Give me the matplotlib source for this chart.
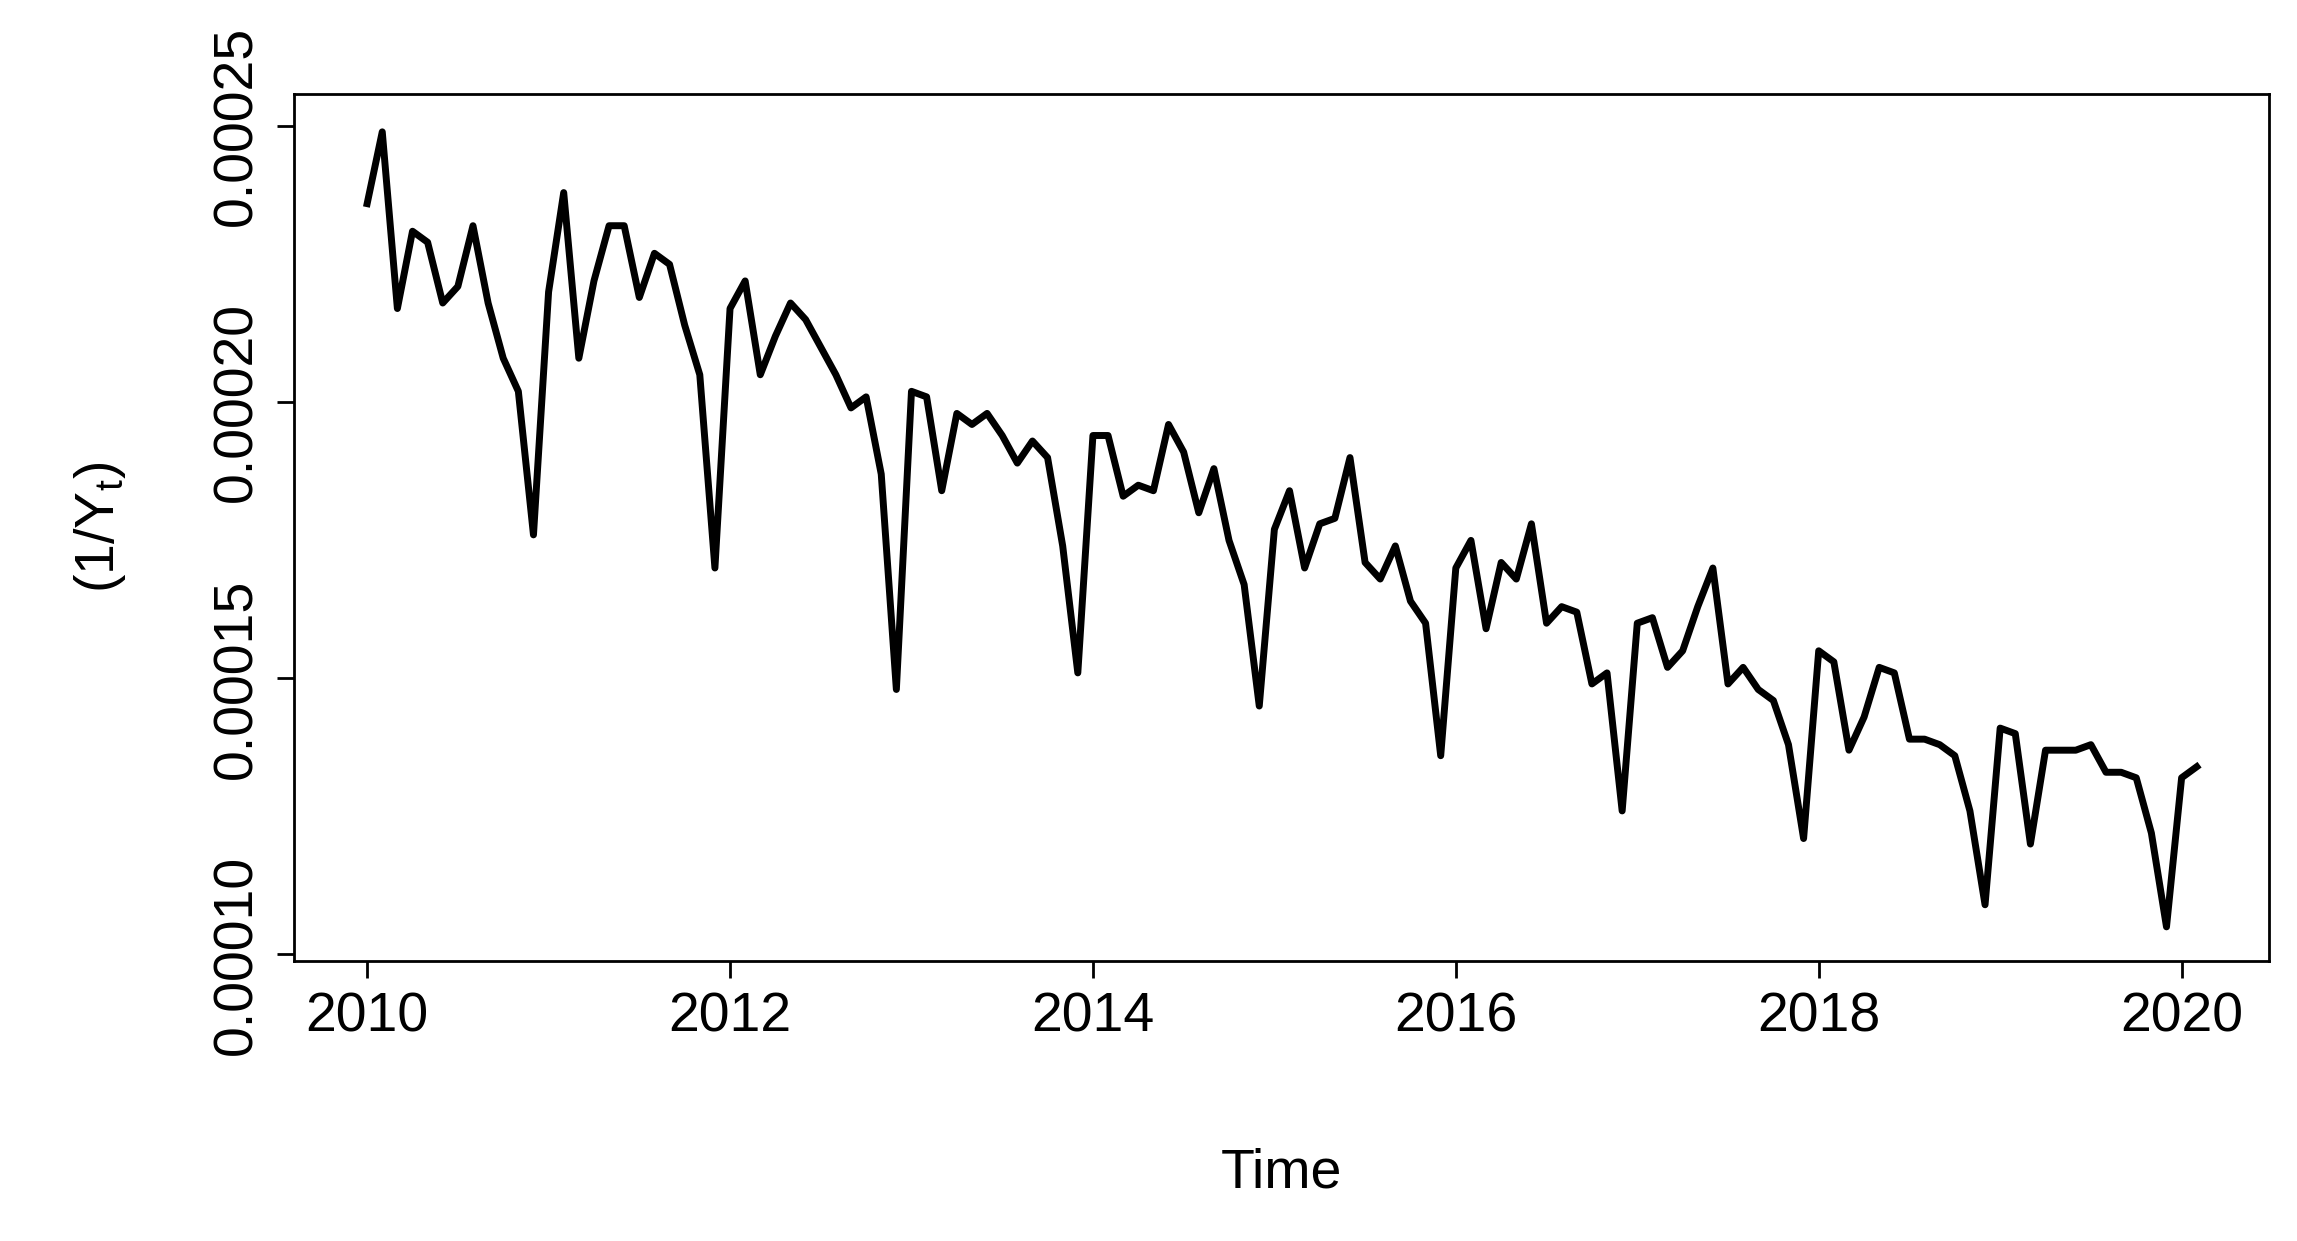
import matplotlib
matplotlib.use("Agg")
import matplotlib.pyplot as plt
import numpy as np

plt.rcParams['font.family'] = ['Liberation Sans', 'DejaVu Sans']
plt.rcParams['mathtext.fontset'] = 'custom'
plt.rcParams['mathtext.rm'] = 'Liberation Sans'

start_year = 2010
values = [
 0.000236,0.000249,0.000217,0.000231,0.000229,0.000218,0.000221,0.000232,0.000218,0.000208,0.000202,0.000176,
 0.000220,0.000238,0.000208,0.000222,0.000232,0.000232,0.000219,0.000227,0.000225,0.000214,0.000205,0.000170,
 0.000217,0.000222,0.000205,0.000212,0.000218,0.000215,0.000210,0.000205,0.000199,0.000201,0.000187,0.000148,
 0.000202,0.000201,0.000184,0.000198,0.000196,0.000198,0.000194,0.000189,0.000193,0.000190,0.000174,0.000151,
 0.000194,0.000194,0.000183,0.000185,0.000184,0.000196,0.000191,0.000180,0.000188,0.000175,0.000167,0.000145,
 0.000177,0.000184,0.000170,0.000178,0.000179,0.000190,0.000171,0.000168,0.000174,0.000164,0.000160,0.000136,
 0.000170,0.000175,0.000159,0.000171,0.000168,0.000178,0.000160,0.000163,0.000162,0.000149,0.000151,0.000126,
 0.000160,0.000161,0.000152,0.000155,0.000163,0.000170,0.000149,0.000152,0.000148,0.000146,0.000138,0.000121,
 0.000155,0.000153,0.000137,0.000143,0.000152,0.000151,0.000139,0.000139,0.000138,0.000136,0.000126,0.000109,
 0.000141,0.000140,0.000120,0.000137,0.000137,0.000137,0.000138,0.000133,0.000133,0.000132,0.000122,0.000105,
 0.000132,0.000134]
xticks = [2010, 2012, 2014, 2016, 2018, 2020]
yticks = [0.00010, 0.00015, 0.00020, 0.00025]
ytick_labels = ["0.00010", "0.00015", "0.00020", "0.00025"]

t = start_year + np.arange(len(values)) / 12.0

fig = plt.figure(figsize=(22.97, 12.41), dpi=100)
ax = fig.add_axes([0.128, 0.226, 0.86, 0.698])
ax.plot(t, values, color='black', linewidth=5)
ax.set_xlim(2009.597, 2020.484)
ax.set_ylim(0.0000989, 0.0002558)
ax.set_xticks(xticks)
ax.set_xticklabels([str(x) for x in xticks])
ax.set_yticks(yticks)
ax.set_yticklabels(ytick_labels, rotation=90, va='center')
ax.tick_params(labelsize=40, length=12, width=2, direction='out', pad=10)
for s in ax.spines.values():
    s.set_linewidth(2)
ax.set_xlabel("Time", fontsize=40, labelpad=75)
ax.set_ylabel(r"$(1/\mathrm{Y}_\mathrm{t})$", fontsize=40, labelpad=60)
fig.savefig("out.png", dpi=100)
